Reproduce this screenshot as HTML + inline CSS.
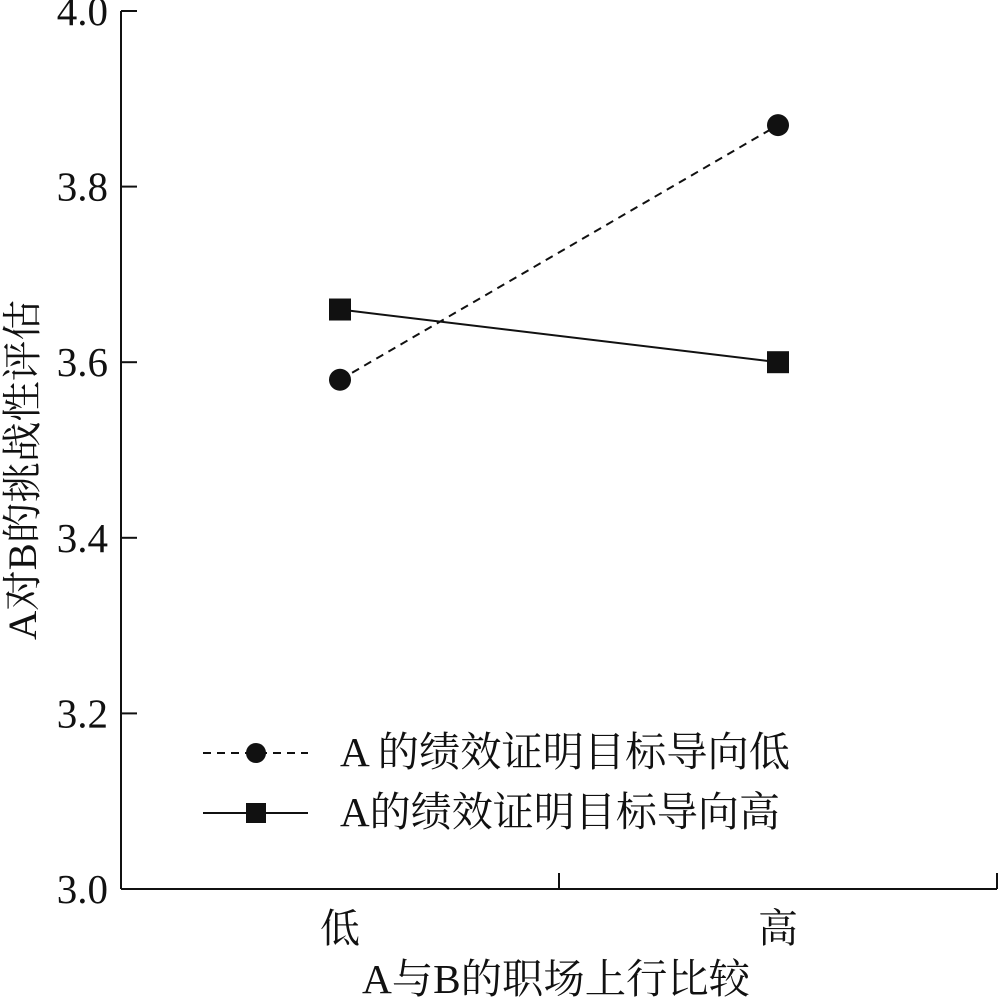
<!DOCTYPE html>
<html><head><meta charset="utf-8"><style>
html,body{margin:0;padding:0;background:#fff;}
svg text{font-family:"Liberation Serif","Noto Serif CJK SC","Noto Sans CJK SC",serif;fill:#111;}
</style></head><body>
<svg id="chart" width="1000" height="1001" viewBox="0 0 1000 1001">
<g id="axes"></g>
<g id="marks"></g>
<g id="legend">
  <line x1="203" y1="753" x2="308" y2="753" stroke="#111" stroke-width="2" stroke-dasharray="8,6"/>
  <circle cx="256" cy="753" r="10" fill="#111"/>
  <text x="340" y="766" font-size="41" textLength="450" lengthAdjust="spacingAndGlyphs">A 的绩效证明目标导向低</text>
  <line x1="203" y1="813" x2="308" y2="813" stroke="#111" stroke-width="2"/>
  <rect x="246" y="803" width="20" height="20" fill="#111"/>
  <text x="340" y="826" font-size="41" textLength="440" lengthAdjust="spacingAndGlyphs">A的绩效证明目标导向高</text>
</g>
<text x="556" y="993" font-size="41" text-anchor="middle" textLength="388" lengthAdjust="spacingAndGlyphs">A与B的职场上行比较</text>
<text transform="translate(36,470) rotate(-90)" font-size="40" text-anchor="middle" textLength="340" lengthAdjust="spacingAndGlyphs">A对B的挑战性评估</text>
</svg>
<script>
const categories = ["低", "高"];
const yTicks = [3.0, 3.2, 3.4, 3.6, 3.8, 4.0];
const yTickLabels = ["3.0", "3.2", "3.4", "3.6", "3.8", "4.0"];
const seriesLow = [3.58, 3.87];
const seriesHigh = [3.66, 3.60];

const NS = "http://www.w3.org/2000/svg";
const x0 = 121, x1 = 997, yTop = 11, yBot = 889, yMin = 3.0, yMax = 4.0;
function yScale(v){ return yBot - (v - yMin) / (yMax - yMin) * (yBot - yTop); }
function xScale(i){ return x0 + (x1 - x0) * (i + 0.5) / categories.length; }
function mk(tag, attrs, parent){ const e = document.createElementNS(NS, tag); for (const k in attrs) e.setAttribute(k, attrs[k]); parent.appendChild(e); return e; }

const axes = document.getElementById("axes");
let yl = mk("line", {x1:x0, y1:yTop, x2:x0, y2:yBot, stroke:"#111", "stroke-width":2}, axes);


let xl = mk("line", {x1:x0, y1:yBot, x2:x1, y2:yBot, stroke:"#111", "stroke-width":2}, axes);


yTicks.forEach((v, i) => {
  const y = yScale(v);
  const t = mk("line", {x1:x0, y1:y, x2:x0 + 16, y2:y, stroke:"#111", "stroke-width":2}, axes);
  
  
  const lb = mk("text", {x:108, y:y + 14, "font-size":41, "text-anchor":"end"}, axes);
  lb.textContent = yTickLabels[i];
  
  
});
for (let i = 1; i <= categories.length; i++) {
  const x = x0 + (x1 - x0) * i / categories.length;
  const t = mk("line", {x1:x, y1:yBot, x2:x, y2:yBot - 16, stroke:"#111", "stroke-width":2}, axes);
  
  
}
categories.forEach((c, i) => {
  const lb = mk("text", {x:xScale(i), y:942, "font-size":40, "text-anchor":"middle"}, axes);
  lb.textContent = c;
  
  
});

const marks = document.getElementById("marks");
const pl = mk("polyline", {points: seriesLow.map((v,i)=>xScale(i)+","+yScale(v)).join(" "), fill:"none", stroke:"#111", "stroke-width":2, "stroke-dasharray":"8,6"}, marks);


const ph = mk("polyline", {points: seriesHigh.map((v,i)=>xScale(i)+","+yScale(v)).join(" "), fill:"none", stroke:"#111", "stroke-width":2}, marks);


seriesLow.forEach((v, i) => {
  const c = mk("circle", {cx:xScale(i), cy:yScale(v), r:11, fill:"#111"}, marks);
  
  
});
seriesHigh.forEach((v, i) => {
  const r = mk("rect", {x:xScale(i)-11, y:yScale(v)-11, width:22, height:22, fill:"#111"}, marks);
  
  
});
</script>
</body></html>
